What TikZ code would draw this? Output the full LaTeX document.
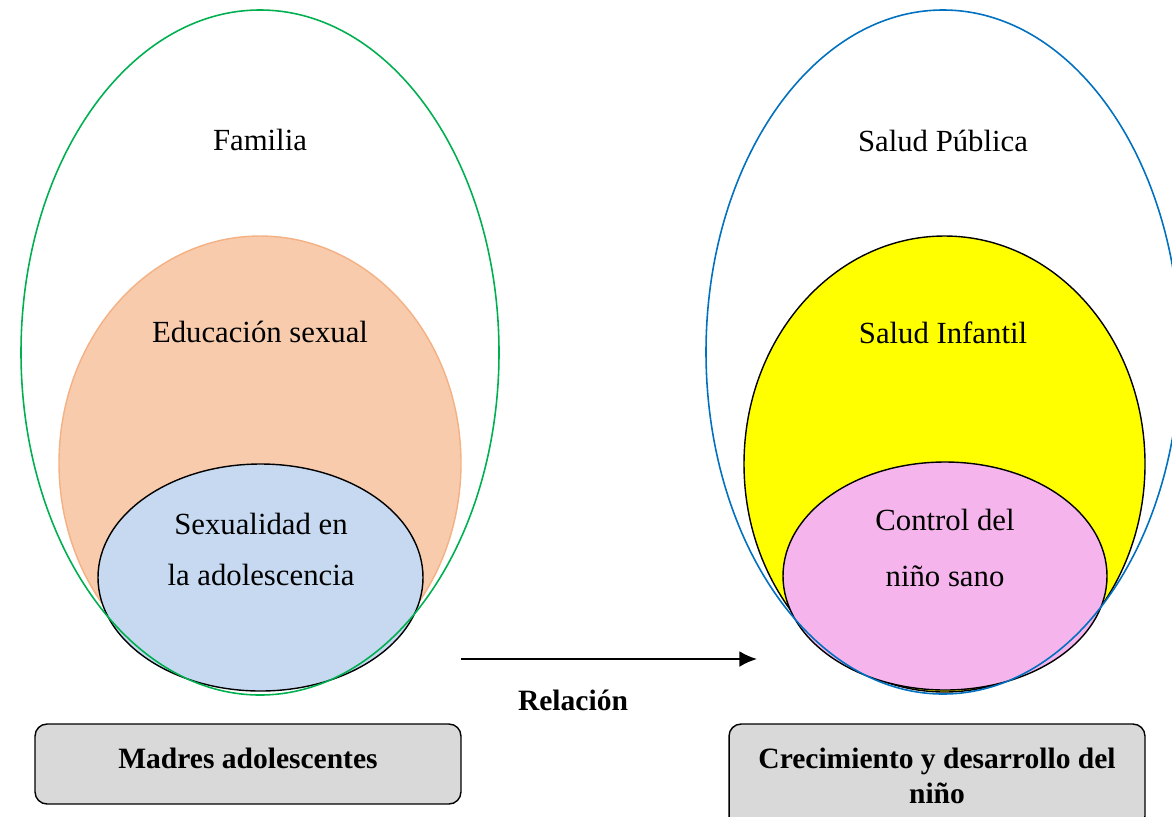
\documentclass[tikz,border=0pt]{standalone}
\usepackage{fontspec}
\setmainfont{Liberation Serif}
\usetikzlibrary{positioning}
\usetikzlibrary{arrows.meta}
\definecolor{diagramgreen}{RGB}{0,176,80}
\definecolor{diagramblue}{RGB}{0,112,192}
\definecolor{diagramorange}{RGB}{248,203,173}
\definecolor{orangeline}{RGB}{244,177,131}
\definecolor{diagramlightblue}{RGB}{198,217,240}
\definecolor{diagramyellow}{RGB}{255,255,0}
\definecolor{diagrampink}{RGB}{246,180,236}
\definecolor{diagramgray}{RGB}{217,217,217}

\begin{document}
\begin{tikzpicture}[x=0.02cm, y=-0.02cm, node distance=6mm,
    every node/.style={align=center, font=\fontsize{17.5}{21}\selectfont},
    outerline/.style={line width=0.9pt},
    innerline/.style={draw=black, line width=0.8pt},
    labelbox/.style={draw=black, fill=diagramgray, rounded corners=0.24cm, line width=0.8pt,
        font=\fontsize{16.8}{19.5}\selectfont\bfseries}]

        \useasboundingbox (0,0) rectangle (1172,816);
        \clip (0,0) rectangle (1172,816);

        % Left circles
        \fill[diagramorange, draw=orangeline, line width=0.8pt] (260,463) ellipse [x radius=201, y radius=227];
        \fill[diagramlightblue, innerline] (260.5,577.5) ellipse [x radius=162.5, y radius=113.5];
        \draw[diagramgreen, outerline] (260,352.5) ellipse [x radius=239, y radius=342.5];

        \node (familia) at (260,140) {Familia};
        \node (eduSex) at (260,332) {Educación sexual};
        \node (sexAdol) at (261,549) {Sexualidad en\\[8pt] la adolescencia};

        % Right circles
        \fill[diagramyellow, innerline] (944.5,464) ellipse [x radius=200.5, y radius=228];
        \fill[diagrampink, innerline] (945,576) ellipse [x radius=162, y radius=114];
        \draw[diagramblue, outerline] (943,352) ellipse [x radius=237, y radius=342];

        \node (saludPub) at (943,141) {Salud Pública};
        \node (saludInf) at (943,333) {Salud Infantil};
        \node (control) at (945,548) {Control del\\[11pt] niño sano};

        % Arrow
        \coordinate (relStart) at (461,659);
        \coordinate (relEnd) at (757,659);
        \draw[-{Latex[length=10pt,width=9pt]}, line width=1.2pt] (relStart) -- (relEnd);
        \node[font=\fontsize{16.8}{20}\selectfont\bfseries] (relacion) at (573,700) {Relación};

        % Boxes
        \node[labelbox, minimum width=8.52cm, minimum height=1.6cm, text depth=6pt] (madres) at (248,764) {Madres adolescentes};
        \node[labelbox, minimum width=8.32cm, minimum height=2.08cm] (crecimiento) at (937,776) {Crecimiento y desarrollo del\\ niño};

    \end{tikzpicture}
\end{document}
